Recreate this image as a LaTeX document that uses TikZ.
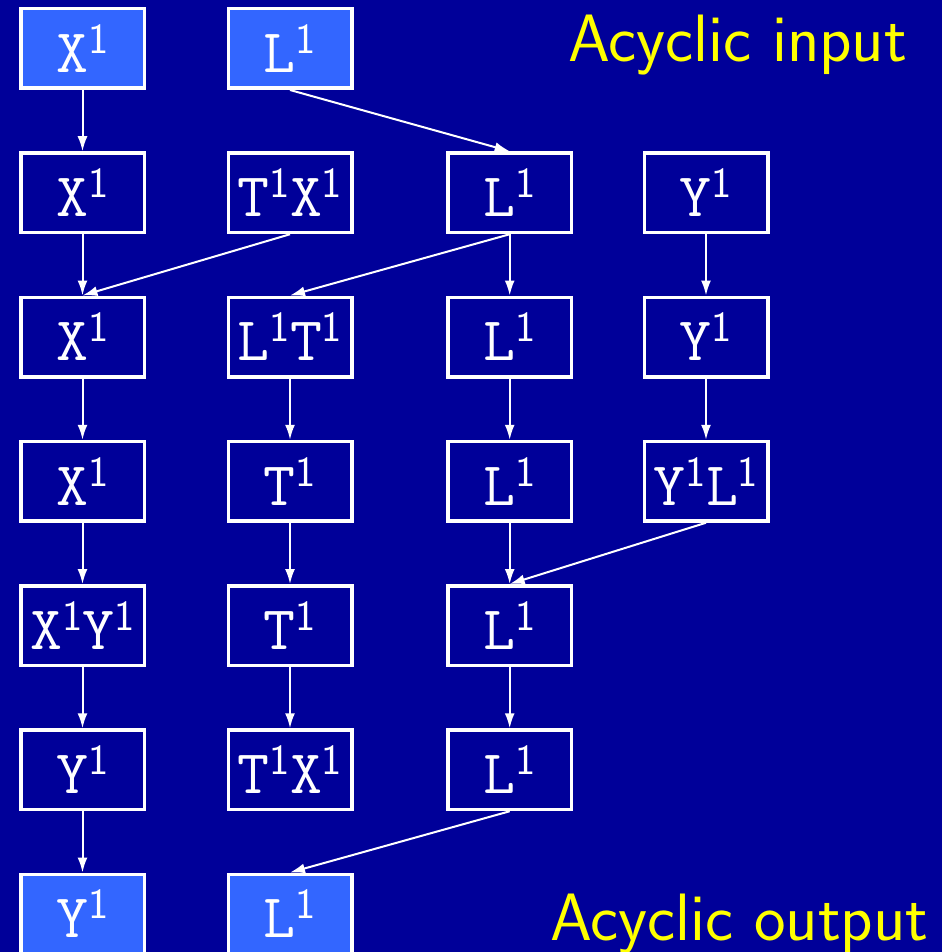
\documentclass[tikz,border=0pt]{standalone}
\usepackage{fontspec}
\usetikzlibrary{arrows.meta}
\definecolor{bgblue}{RGB}{0,0,153}
\definecolor{boxblue}{RGB}{51,102,255}
\definecolor{labelyellow}{RGB}{255,255,0}
\newcommand\supone{\raisebox{19pt}{\sffamily\fontsize{43}{43}\selectfont 1}}
\newcommand\sym[1]{#1\supone}
\begin{document}
\begin{tikzpicture}[x=1pt,y=-1pt,
  cell/.style={draw=white, line width=3.5pt, fill=bgblue, text=white,
    minimum width=123.5pt, minimum height=79.5pt, inner sep=0pt,
    font=\ttfamily\fontsize{62}{62}\selectfont},
  ends/.style={cell, fill=boxblue},
  link/.style={draw=white, line width=2pt, -{Latex[length=15pt,width=10pt]}},
  caption/.style={text=labelyellow, inner sep=0pt, anchor=base west,
    font=\sffamily\fontsize{67}{67}\selectfont}]
\fill[bgblue] (0,0) rectangle (942,952);
\useasboundingbox (0,0) rectangle (942,952);
% column centres and row centres
\def\ca{82.5}\def\cb{290}\def\cc{509.7}\def\cd{706}
\def\ra{48.5}\def\rb{192.75}\def\rc{337}\def\rd{481.25}
\def\re{625.5}\def\rf{769.75}\def\rg{914}
% row 1
\node[ends] (a1) at (\ca,\ra) {\sym{X}};
\node[ends] (a2) at (\cb,\ra) {\sym{L}};
% row 2
\node[cell] (b1) at (\ca,\rb) {\sym{X}};
\node[cell] (b2) at (\cb,\rb) {\sym{T}\sym{X}};
\node[cell] (b3) at (\cc,\rb) {\sym{L}};
\node[cell] (b4) at (\cd,\rb) {\sym{Y}};
% row 3
\node[cell] (c1) at (\ca,\rc) {\sym{X}};
\node[cell] (c2) at (\cb,\rc) {\sym{L}\sym{T}};
\node[cell] (c3) at (\cc,\rc) {\sym{L}};
\node[cell] (c4) at (\cd,\rc) {\sym{Y}};
% row 4
\node[cell] (d1) at (\ca,\rd) {\sym{X}};
\node[cell] (d2) at (\cb,\rd) {\sym{T}};
\node[cell] (d3) at (\cc,\rd) {\sym{L}};
\node[cell] (d4) at (\cd,\rd) {\sym{Y}\sym{L}};
% row 5
\node[cell] (e1) at (\ca,\re) {\sym{X}\sym{Y}};
\node[cell] (e2) at (\cb,\re) {\sym{T}};
\node[cell] (e3) at (\cc,\re) {\sym{L}};
% row 6
\node[cell] (f1) at (\ca,\rf) {\sym{Y}};
\node[cell] (f2) at (\cb,\rf) {\sym{T}\sym{X}};
\node[cell] (f3) at (\cc,\rf) {\sym{L}};
% row 7
\node[ends] (g1) at (\ca,\rg) {\sym{Y}};
\node[ends] (g2) at (\cb,\rg) {\sym{L}};
% captions
\node[caption] (cin) at (568,61.7) {Acyclic input};
\node[caption] (cout) at (550,940.7) {Acyclic output};
% connectors
\foreach \s/\t in {a1/b1, a2/b3, b1/c1, b2/c1, b3/c2, b3/c3, b4/c4,
                   c1/d1, c2/d2, c3/d3, c4/d4,
                   d1/e1, d2/e2, d3/e3, d4/e3,
                   e1/f1, e2/f2, e3/f3,
                   f1/g1, f3/g2}
  \draw[link] (\s.south) -- (\t.north);
\end{tikzpicture}
\end{document}
